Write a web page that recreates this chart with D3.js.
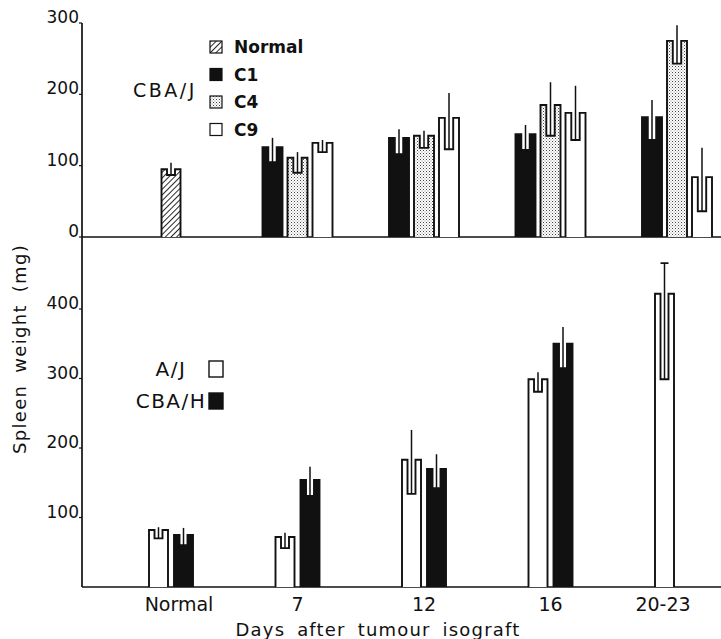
<!DOCTYPE html>
<html>
<head>
<meta charset="utf-8">
<script src="https://cdn.jsdelivr.net/npm/d3@7"></script>
<style>
  body { margin: 0; background: #fff; }
  text { font-family: "DejaVu Sans", sans-serif; fill: #111; }
</style>
</head>
<body>
<script>
// categories
var days = ["Normal", "7", "12", "16", "20-23"];

// top panel, CBA/J (mean, lower end of error, upper end of error)
var cbajSeries = ["Normal", "C1", "C4", "C9"];
var normalMean = [95, null, null, null, null];
var normalLo   = [87, null, null, null, null];
var normalHi   = [104, null, null, null, null];
var c1Mean = [null, 126, 139, 144, 168];
var c1Lo   = [null, 105, 116, 122, 136];
var c1Hi   = [null, 139, 151, 157, 192];
var c4Mean = [null, 111, 142, 185, 275];
var c4Lo   = [null, 90, 125, 142, 243];
var c4Hi   = [null, 119, 149, 217, 297];
var c9Mean = [null, 132, 167, 174, 84];
var c9Lo   = [null, 119, 123, 136, 36];
var c9Hi   = [null, 136, 202, 212, 125];

// bottom panel
var bottomSeries = ["A/J", "CBA/H"];
var ajMean = [82, 72, 183, 299, 422];
var ajLo   = [70, 56, 134, 281, 299];
var ajHi   = [86, 78, 226, 309, 466];
var cbahMean = [75, 154, 170, 350, null];
var cbahLo   = [60, 131, 142, 315, null];
var cbahHi   = [85, 173, 191, 374, null];

var topTicks = [0, 100, 200, 300];
var bottomTicks = [100, 200, 300, 400];

var width = 721, height = 639;
var svg = d3.select("body").append("svg")
    .attr("width", width)
    .attr("height", height);

var defs = svg.append("defs");
var hatch = defs.append("pattern")
    .attr("id", "hatch")
    .attr("patternUnits", "userSpaceOnUse")
    .attr("width", 4).attr("height", 4)
    .attr("patternTransform", "rotate(45)");
hatch.append("rect").attr("width", 4).attr("height", 4).attr("fill", "#fff");
hatch.append("line").attr("x1", 0).attr("y1", 0).attr("x2", 0).attr("y2", 4)
    .attr("stroke", "#111").attr("stroke-width", 1.8);

var dots = defs.append("pattern")
    .attr("id", "dots")
    .attr("patternUnits", "userSpaceOnUse")
    .attr("width", 3).attr("height", 3);
dots.append("rect").attr("width", 3).attr("height", 3).attr("fill", "#fff");
dots.append("rect").attr("x", 0).attr("y", 0).attr("width", 1).attr("height", 1).attr("fill", "#444");
dots.append("rect").attr("x", 1.5).attr("y", 1.5).attr("width", 1).attr("height", 1).attr("fill", "#888");

var fills = {Normal: "url(#hatch)", C1: "#111", C4: "url(#dots)", C9: "#fff", "A/J": "#fff", "CBA/H": "#111"};

var axisX = 82;
var x = d3.scalePoint().domain(days).range([171, 677]);
var xTop = d3.scaleBand().domain(["C1", "C4", "C9"]).range([-35, 35]).paddingInner(0.2);
var xBot = d3.scaleBand().domain(bottomSeries).range([-22, 22]).paddingInner(0.24);
var yTop = d3.scaleLinear().domain([0, 300]).range([237, 23]);
var yBot = d3.scaleLinear().domain([0, 400]).range([587, 309]);

// axes lines
svg.append("line").attr("x1", axisX).attr("x2", axisX).attr("y1", yTop(300)).attr("y2", yBot(0))
    .attr("stroke", "#111").attr("stroke-width", 1.7);
svg.append("line").attr("x1", axisX).attr("x2", width).attr("y1", yTop(0)).attr("y2", yTop(0))
    .attr("stroke", "#111").attr("stroke-width", 1.7);
svg.append("line").attr("x1", axisX).attr("x2", width).attr("y1", yBot(0)).attr("y2", yBot(0))
    .attr("stroke", "#111").attr("stroke-width", 1.7);

function ticks(scale, values) {
    var g = svg.append("g");
    g.selectAll("line").data(values).join("line")
        .attr("x1", axisX - 3).attr("x2", axisX)
        .attr("y1", d => scale(d)).attr("y2", d => scale(d))
        .attr("stroke", "#111").attr("stroke-width", 1.2);
    g.selectAll("text").data(values).join("text")
        .attr("x", axisX - 3).attr("y", d => scale(d))
        .attr("text-anchor", "end")
        .style("font-size", "17px")
        .text(d => d);
}
ticks(yTop, topTicks);
ticks(yBot, bottomTicks);

// one notched bar with error line
function bar(g, cx, w, y, mean, lo, hi, fill, cap) {
    var x0 = cx - w / 2, x1 = cx + w / 2;
    var nw = w * 0.42;
    var n0 = cx - nw / 2, n1 = cx + nw / 2;
    var p = d3.path();
    p.moveTo(x0, y(0));
    p.lineTo(x0, y(mean));
    p.lineTo(n0, y(mean));
    p.lineTo(n0, y(lo));
    p.lineTo(n1, y(lo));
    p.lineTo(n1, y(mean));
    p.lineTo(x1, y(mean));
    p.lineTo(x1, y(0));
    g.append("path").attr("d", p.toString())
        .attr("fill", fill).attr("stroke", "#111").attr("stroke-width", 1.9)
        .attr("stroke-linejoin", "miter");
    g.append("line").attr("x1", cx).attr("x2", cx).attr("y1", y(lo)).attr("y2", y(hi))
        .attr("stroke", "#111").attr("stroke-width", 1.5);
    if (cap) {
        g.append("line").attr("x1", cx - 4).attr("x2", cx + 4).attr("y1", y(hi)).attr("y2", y(hi))
            .attr("stroke", "#111").attr("stroke-width", 1.7);
    }
}

var topG = svg.append("g");
days.forEach(function (d, i) {
    if (normalMean[i] != null) bar(topG, x(d), 19, yTop, normalMean[i], normalLo[i], normalHi[i], fills.Normal);
    if (c1Mean[i] != null) bar(topG, x(d) + xTop("C1") + xTop.bandwidth() / 2, xTop.bandwidth(), yTop, c1Mean[i], c1Lo[i], c1Hi[i], fills.C1);
    if (c4Mean[i] != null) bar(topG, x(d) + xTop("C4") + xTop.bandwidth() / 2, xTop.bandwidth(), yTop, c4Mean[i], c4Lo[i], c4Hi[i], fills.C4);
    if (c9Mean[i] != null) bar(topG, x(d) + xTop("C9") + xTop.bandwidth() / 2, xTop.bandwidth(), yTop, c9Mean[i], c9Lo[i], c9Hi[i], fills.C9);
});

var botG = svg.append("g");
days.forEach(function (d, i) {
    var cap = d === "20-23";
    if (ajMean[i] != null) bar(botG, x(d) + xBot("A/J") + xBot.bandwidth() / 2, xBot.bandwidth(), yBot, ajMean[i], ajLo[i], ajHi[i], fills["A/J"], cap);
    if (cbahMean[i] != null) bar(botG, x(d) + xBot("CBA/H") + xBot.bandwidth() / 2, xBot.bandwidth(), yBot, cbahMean[i], cbahLo[i], cbahHi[i], fills["CBA/H"]);
});

// x tick labels
svg.append("g").selectAll("text").data(days).join("text")
    .attr("x", (d, i) => i === 0 ? x(d) + 8 : (i === 4 ? x(d) - 14 : x(d)))
    .attr("y", 611)
    .attr("text-anchor", "middle")
    .style("font-size", "19px")
    .text(d => d);

svg.append("text")
    .attr("x", 378).attr("y", 636)
    .attr("text-anchor", "middle")
    .style("font-size", "18px")
    .style("letter-spacing", "1.2px")
    .style("word-spacing", "5px")
    .text("Days after tumour isograft");

svg.append("text")
    .attr("transform", "translate(26,349) rotate(-90)")
    .attr("text-anchor", "middle")
    .style("font-size", "18px")
    .style("letter-spacing", "1.3px")
    .style("word-spacing", "5px")
    .text("Spleen weight (mg)");

// top legend
svg.append("text").attr("x", 133).attr("y", 97)
    .style("font-size", "19px").style("letter-spacing", "2.5px")
    .text("CBA/J");
var leg = svg.append("g").selectAll("g").data(cbajSeries).join("g")
    .attr("transform", (d, i) => "translate(210," + (41 + i * 27.5) + ")");
leg.append("rect").attr("width", 12).attr("height", 12)
    .attr("fill", d => fills[d]).attr("stroke", "#111").attr("stroke-width", 1.2);
leg.append("text").attr("x", 24).attr("y", 12)
    .style("font-size", "17px").style("font-weight", "bold")
    .text(d => d);

// bottom legend
var leg2 = svg.append("g").selectAll("g").data(bottomSeries).join("g")
    .attr("transform", (d, i) => "translate(209," + (361 + i * 32) + ")");
leg2.append("rect").attr("width", 14).attr("height", 16)
    .attr("fill", d => fills[d]).attr("stroke", "#111").attr("stroke-width", 1.4);
leg2.append("text").attr("x", -38).attr("y", 15)
    .attr("text-anchor", "middle")
    .style("font-size", "20px").style("letter-spacing", "1.5px")
    .text(d => d);
</script>
</body>
</html>
